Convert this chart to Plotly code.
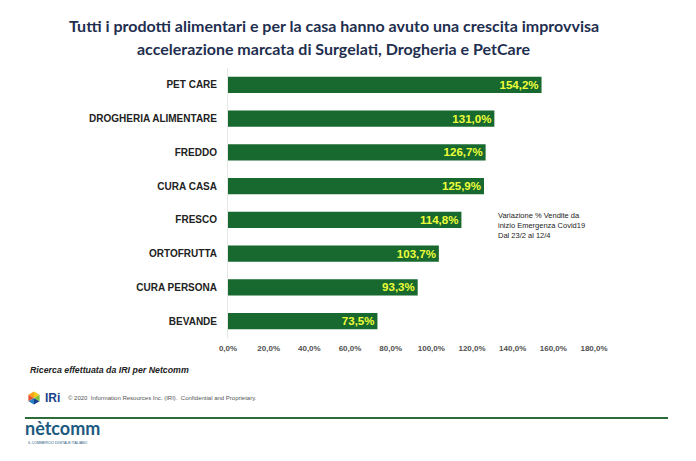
import plotly.graph_objects as go
import math

categories = ["PET CARE", "DROGHERIA ALIMENTARE", "FREDDO", "CURA CASA",
              "FRESCO", "ORTOFRUTTA", "CURA PERSONA", "BEVANDE"]
values = [154.2, 131.0, 126.7, 125.9, 114.8, 103.7, 93.3, 73.5]
tick_vals = [0, 20, 40, 60, 80, 100, 120, 140, 160, 180]
tick_text = ["0,0%", "20,0%", "40,0%", "60,0%", "80,0%", "100,0%",
             "120,0%", "140,0%", "160,0%", "180,0%"]
labels = [f"{v:.1f}%".replace(".", ",") for v in values]

W, H = 696, 461
L, R, T, B = 228, 102, 68, 123
PW, PH = W - L - R, H - T - B

def px(x):
    return (x - L) / PW

def py(y):
    return (H - B - y) / PH

ARIAL = "Arial, Liberation Sans"

fig = go.Figure(go.Bar(
    x=values, y=categories, orientation="h",
    marker=dict(color="#17692F", line=dict(width=0)),
    text=labels, textposition="inside", insidetextanchor="end",
    textfont=dict(family=ARIAL, size=11.5, color="#EEFF3A", weight="bold"),
    textangle=0, cliponaxis=False,
))

fig.update_layout(
    width=W, height=H, margin=dict(l=L, r=R, t=T, b=B),
    paper_bgcolor="white", plot_bgcolor="white",
    bargap=0.52, showlegend=False,
    font=dict(family=ARIAL),
    uniformtext=dict(minsize=11.5, mode="show"),
)
fig.update_xaxes(range=[0, 180], tickvals=tick_vals, ticktext=tick_text,
                 showgrid=False, zeroline=False, showline=False,
                 tickfont=dict(size=8, color="#505050", family=ARIAL, weight="bold"),
                 ticks="outside", ticklen=2, tickcolor="rgba(0,0,0,0)")
fig.update_yaxes(categoryorder="array", categoryarray=categories[::-1],
                 range=[-0.5, 7.5], showgrid=False, zeroline=False,
                 showline=True, linecolor="#E4E8E4", linewidth=1,
                 tickfont=dict(size=10, color="#222222", family=ARIAL, weight="bold"),
                 ticks="outside", ticklen=8, tickcolor="rgba(0,0,0,0)")

TFONT = dict(family="Lato, Open Sans", size=16, color="#1F2F4F", weight="bold")
ann = []
ann.append(dict(x=px(334), y=py(25), xref="paper", yref="paper",
                text="Tutti i prodotti alimentari e per la casa hanno avuto una crescita improvvisa",
                showarrow=False, xanchor="center", yanchor="middle", font=TFONT))
ann.append(dict(x=px(333), y=py(49), xref="paper", yref="paper",
                text="accelerazione marcata di Surgelati, Drogheria e PetCare",
                showarrow=False, xanchor="center", yanchor="middle", font=TFONT))
ann.append(dict(x=px(496), y=py(209), xref="paper", yref="paper",
                text="Variazione % Vendite da<br>inizio Emergenza Covid19<br>Dal 23/2 al 12/4",
                showarrow=False, xanchor="left", yanchor="top", align="left",
                font=dict(size=7.5, color="#222222")))
ann.append(dict(x=px(28), y=py(370), xref="paper", yref="paper",
                text="<b><i>Ricerca effettuata da IRI per Netcomm</i></b>",
                showarrow=False, xanchor="left", yanchor="middle",
                font=dict(size=8.8, color="#222222")))
ann.append(dict(x=px(43), y=py(398), xref="paper", yref="paper",
                text="<b>IRi</b>", showarrow=False, xanchor="left", yanchor="middle",
                font=dict(size=12, color="#1B3F8C")))
ann.append(dict(x=px(66), y=py(398), xref="paper", yref="paper",
                text="© 2020  Information Resources Inc. (IRI).  Confidential and Proprietary.",
                showarrow=False, xanchor="left", yanchor="middle",
                font=dict(size=6, color="#555555")))
ann.append(dict(x=px(23), y=py(428), xref="paper", yref="paper",
                text="<b>nètcomm</b>", showarrow=False, xanchor="left", yanchor="middle",
                font=dict(family="Lato, Open Sans", size=18, color="#1C5A7E")))
ann.append(dict(x=px(26), y=py(443), xref="paper", yref="paper",
                text="IL COMMERCIO DIGITALE ITALIANO", showarrow=False,
                xanchor="left", yanchor="middle",
                font=dict(size=3.5, color="#1C5A7E")))
fig.update_layout(annotations=ann)

shapes = []
shapes.append(dict(type="line", xref="paper", yref="paper",
                   x0=px(25), x1=px(668), y0=py(418), y1=py(418),
                   line=dict(color="#2E6B3A", width=2)))
cx, cy, r = 34, 398, 6.5
pts = [(cx + r * math.cos(math.radians(90 + 60 * k)), cy - r * math.sin(math.radians(90 + 60 * k))) for k in range(6)]
cols = ["#F5A31A", "#E8532B", "#2A7FC1", "#1B3F8C", "#7BBF3A", "#F5C51A"]
for k in range(6):
    a, b = pts[k], pts[(k + 1) % 6]
    path = f"M {px(cx)} {py(cy)} L {px(a[0])} {py(a[1])} L {px(b[0])} {py(b[1])} Z"
    shapes.append(dict(type="path", xref="paper", yref="paper", path=path,
                       fillcolor=cols[k], line=dict(width=0)))
fig.update_layout(shapes=shapes)

fig.write_html("out.html")
